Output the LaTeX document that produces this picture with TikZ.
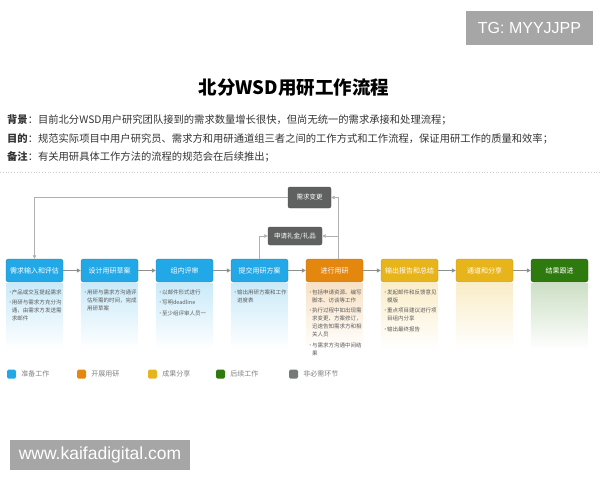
\documentclass[tikz,border=0pt]{standalone}
\usepackage{fontspec}
\setmainfont{Noto Sans CJK SC}
\newfontfamily\wmfont{Liberation Sans}
\XeTeXlinebreaklocale "zh"
\XeTeXlinebreakskip=0pt plus 1pt
\usetikzlibrary{positioning,calc,arrows.meta}

\definecolor{prepblue}{HTML}{22A8E6}
\definecolor{runorange}{HTML}{E3870F}
\definecolor{shareyellow}{HTML}{E8B41C}
\definecolor{followgreen}{HTML}{2E7A0E}
\definecolor{optgray}{HTML}{5F6161}
\definecolor{linegray}{HTML}{8E8E8E}
\definecolor{wmgray}{HTML}{A6A6A6}
\definecolor{textgray}{HTML}{333333}

\newcommand{\noteitem}[1]{\par\hangindent=4.5pt\hangafter=1\noindent\makebox[4.5pt][l]{\textcolor{gray}{\textbullet}}#1\par\vspace{2.5pt}}

\tikzset{
  stage/.style={draw,rounded corners=2.5pt,minimum width=57pt,minimum height=23pt,
    inner sep=0pt,text=white,font=\fontsize{7}{8}\selectfont},
  prep/.style={stage,fill=prepblue,draw=prepblue!80!black},
  run/.style={stage,fill=runorange,draw=runorange!85!black},
  share/.style={stage,fill=shareyellow,draw=shareyellow!85!black},
  follow/.style={stage,fill=followgreen,draw=followgreen!80!black},
  optional/.style={draw=optgray!80!black,fill=optgray,rounded corners=2pt,inner sep=0pt,
    text=white,font=\fontsize{6.5}{7}\selectfont},
  notes/.style={text width=54pt,align=left,inner sep=0pt,text=textgray!80,
    font=\fontsize{5.5}{8}\selectfont},
  flow/.style={draw=linegray,line width=1pt,-{Triangle[length=4pt,width=4pt]}},
  back/.style={draw=linegray!70,line width=0.8pt,-{Triangle[length=3.5pt,width=3.5pt]}},
  legendbox/.style={rounded corners=1.5pt,minimum size=9pt,inner sep=0pt},
  legendtext/.style={right=5pt of #1,inner sep=0pt,text=gray,font=\fontsize{7}{8}\selectfont},
  header/.style={anchor=west,inner sep=0pt,text=textgray,font=\fontsize{10.3}{12}\selectfont},
  watermark/.style={fill=wmgray,text=white,inner sep=0pt,font=\wmfont}
}

\begin{document}
\begin{tikzpicture}[x=1pt,y=-1pt]
  \useasboundingbox (0,0) rectangle (600,480);

  % watermarks
  \node[watermark,minimum width=127pt,minimum height=34pt,font=\wmfont\fontsize{16}{17}\selectfont]
    (tg) at (529.5,28) {TG: MYYJJPP};
  \node[watermark,minimum width=180pt,minimum height=30pt,font=\wmfont\fontsize{17.5}{18}\selectfont]
    (site) at (100,455) {www.kaifadigital.com};

  % title and intro
  \node[inner sep=0pt,font=\fontsize{18.5}{20}\selectfont\bfseries] (title) at (294,88) {北分WSD用研工作流程};
  \node[header] (bg) at (7,120) {\textbf{背景}：目前北分WSD用户研究团队接到的需求数量增长很快，但尚无统一的需求承接和处理流程；};
  \node[header] (aim) at (7,139) {\textbf{目的}：规范实际项目中用户研究员、需求方和用研通道组三者之间的工作方式和工作流程，保证用研工作的质量和效率；};
  \node[header] (memo) at (7,157) {\textbf{备注}：有关用研具体工作方法的流程的规范会在后续推出；};
  \draw[gray!40,dotted,line width=0.8pt] (0,172) -- (600,172);

  % stages
  \node[prep] (s1) at (34.5,270.5) {需求输入和评估};
  \node[prep,right=17.6pt of s1] (s2) {设计用研草案};
  \node[prep,right=17.6pt of s2] (s3) {组内评审};
  \node[prep,right=17.6pt of s3] (s4) {提交用研方案};
  \node[run,right=17.6pt of s4] (s5) {进行用研};
  \node[share,right=17.6pt of s5] (s6) {输出报告和总结};
  \node[share,right=17.6pt of s6] (s7) {通道和分享};
  \node[follow,right=17.6pt of s7] (s8) {结果跟进};

  \foreach \i/\j in {1/2,2/3,3/4,4/5,5/6,6/7,7/8}
    \draw[flow] (s\i) -- (s\j);

  % faded panels under the stages
  \foreach \i/\c in {1/prepblue,2/prepblue,3/prepblue,4/prepblue,5/runorange,6/shareyellow,7/shareyellow,8/followgreen}
    \shade[top color=\c!24,bottom color=white] ($(s\i.south west)+(0,1)$) rectangle +(57,66);

  % optional steps
  \node[optional,minimum width=43pt,minimum height=21pt] (change) at (309.5,197.5) {需求变更};
  \node[optional,minimum width=54pt,minimum height=18pt] (gift) at (295,236) {申请礼金/礼品};
  \coordinate (runtop) at ($(s5.north)+(4,0)$);

  \draw[back] (runtop) |- (change.east);
  \draw[back] (change.west) -| (s1.north);
  \draw[back] (s4.north) |- (gift.west);
  \draw[back] (runtop) |- (gift.east);

  % notes
  \node[notes,below=4pt of s1] (n1) {\noteitem{产品或交互提起需求}\noteitem{用研与需求方充分沟通，由需求方发送需求邮件}};
  \node[notes,below=4pt of s2] (n2) {\noteitem{用研与需求方沟通评估所需的时间，完成用研草案}};
  \node[notes,below=4pt of s3] (n3) {\noteitem{以邮件形式进行}\noteitem{写明deadline}\noteitem{至少组评审人员一}};
  \node[notes,below=4pt of s4] (n4) {\noteitem{输出用研方案和工作进度表}};
  \node[notes,below=4pt of s5] (n5) {\noteitem{包括申请资源、编写脚本、访谈等工作}\noteitem{执行过程中如出现需求变更、方案修订，迅速告知需求方和相关人员}\noteitem{与需求方沟通中间结果}};
  \node[notes,below=4pt of s6] (n6) {\noteitem{发起邮件和反馈意见模版}\noteitem{重点项目建议进行项目组内分享}\noteitem{输出最终报告}};

  % legend
  \node[legendbox,fill=prepblue] (lg1) at (11.5,374) {};
  \node[legendtext=lg1] (lt1) {准备工作};
  \node[legendbox,fill=runorange] (lg2) at (81.5,374) {};
  \node[legendtext=lg2] (lt2) {开展用研};
  \node[legendbox,fill=shareyellow] (lg3) at (152.5,374) {};
  \node[legendtext=lg3] (lt3) {成果分享};
  \node[legendbox,fill=followgreen] (lg4) at (220.5,374) {};
  \node[legendtext=lg4] (lt4) {后续工作};
  \node[legendbox,fill=optgray!85] (lg5) at (293.5,374) {};
  \node[legendtext=lg5] (lt5) {非必需环节};
\end{tikzpicture}
\end{document}
